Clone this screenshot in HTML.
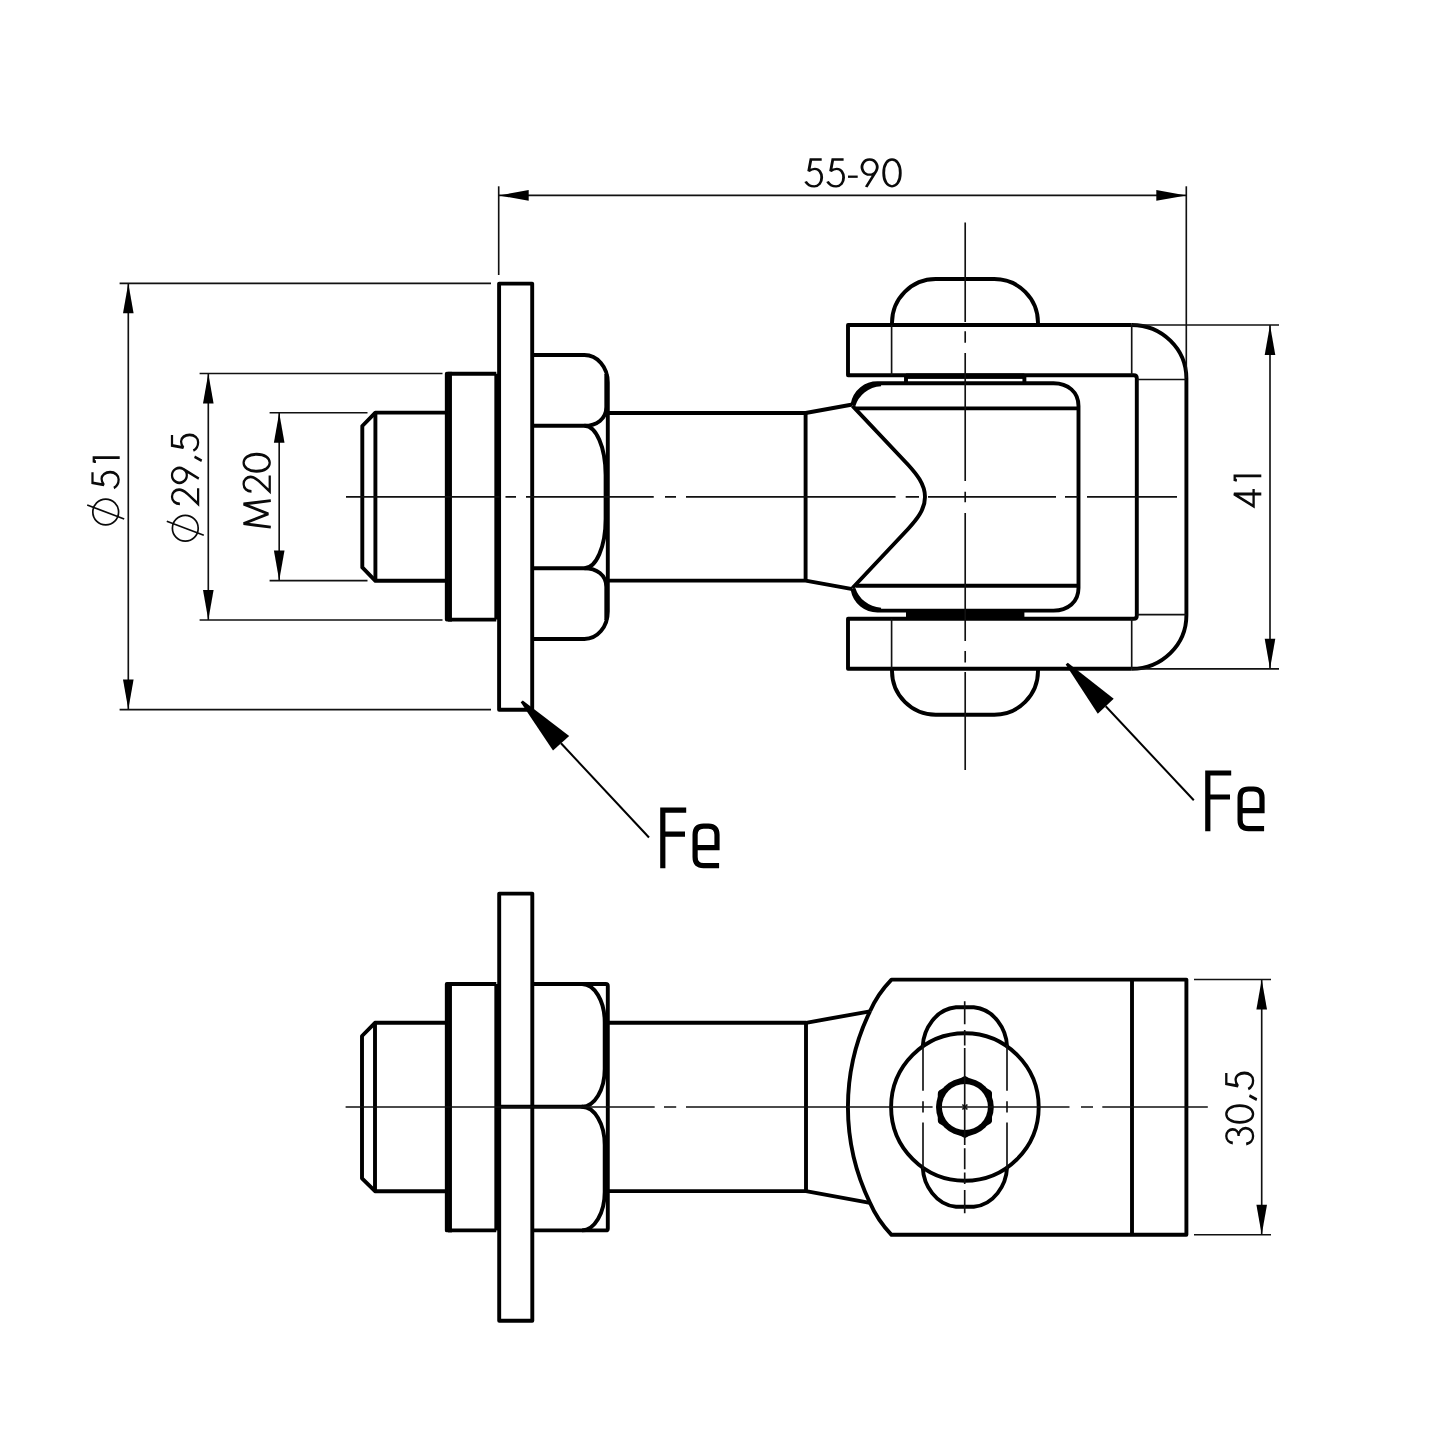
<!DOCTYPE html>
<html><head><meta charset="utf-8"><title>Drawing</title>
<style>
html,body{margin:0;padding:0;background:#fff;}
body{width:1440px;height:1440px;overflow:hidden;font-family:"Liberation Sans",sans-serif;}
svg{display:block}
.m{fill:none;stroke:#000;stroke-width:3.9;stroke-linejoin:round;stroke-linecap:butt}
.t{fill:none;stroke:#111;stroke-width:1.65}
.t2{fill:none;stroke:#000;stroke-width:2}
.f{fill:#000;stroke:none}
.g{fill:none;stroke:#0a0a0a;stroke-width:2.3;stroke-linejoin:miter;stroke-miterlimit:3;stroke-linecap:butt}
.g2{fill:none;stroke:#0a0a0a;stroke-width:1.7}
.fe{fill:none;stroke:#000;stroke-width:5.2;stroke-linejoin:miter;stroke-linecap:butt}
</style></head>
<body>
<svg width="1440" height="1440" viewBox="0 0 1440 1440">
<rect x="0" y="0" width="1440" height="1440" fill="#fff"/>
<path class="m" d="M499.1,283.6H532.2V709.8H499.1Z" />
<path class="m" d="M496.3,373.8H446.8V619.6H496.3" />
<path class="m" d="M450,371.85V621.55" />
<path class="m" d="M496.3,373.8V619.6" />
<path class="m" d="M447,412.6H375.4L362.3,426V567.4L375.4,580.8H447" />
<path class="m" d="M375.4,412.6V580.8" />
<path class="m" d="M532.2,355H584.4C597.3,355 607.8,367 607.8,382.5V611.5C607.8,627 597.3,639 584.4,639H532.2" />
<path class="m" d="M532.2,425.8H584.4C596.5,425.8 606.3,419 606.3,407V374" />
<path class="m" d="M532.2,568.2H584.4C596.5,568.2 606.3,575 606.3,587V620" />
<path class="m" d="M584.4,425.8C596,425.8 605.6,447 605.6,475V519C605.6,547 596,568.2 584.4,568.2" />
<path class="m" d="M607.8,413H805.6L852.5,404.5" />
<path class="m" d="M607.8,580.6H805.6L852.5,589.2" />
<path class="m" d="M805.6,413V580.6" />
<path class="m" d="M852.5,404.5C855,391 866,383.3 877.5,383.3H1053.5C1068,383.3 1078.5,392 1078.5,406V588C1078.5,602 1068,610.6 1053.5,610.6H877.5C866,610.6 855,603 852.5,589.2" />
<path class="m" d="M853.5,405.3C857,394.3 867,385 881,384.2" />
<path class="m" d="M853.5,588.5C857,599.5 867,608.8 881,609.6" />
<path class="m" d="M856,408.4H1078.5 M856,585.7H1078.5" />
<path class="m" d="M852.5,405.8L908.3,465C916,473.5 925,484 925,496.9C925,510 916,520.3 908.3,528.8L852.5,588" />
<path class="m" d="M906,375.3V383.3 M1024.4,375.3V383.3" />
<rect class="f" x="906" y="373.5" width="118.4" height="5.4"/>
<rect class="f" x="906" y="610" width="118.4" height="9"/>
<path class="m" d="M1131.7,325H848V375.3H1133.8Q1136.8,375.3 1136.8,378.3V615.8Q1136.8,618.8 1133.8,618.8H848V668.8H1131.7" />
<path class="m" d="M1131.7,325A54.7,53.6 0 0 1 1186.4,378.6V615.2A54.7,53.6 0 0 1 1131.7,668.8" />
<path class="t" d="M1131.7,325V375.3 M1131.7,618.8V668.8 M1137,379.5H1186.4 M1137,614.6H1186.4 M891.6,325V375.3 M891.6,618.8V668.8" />
<path class="m" d="M892,325V322.7A43.7,43.7 0 0 1 935.7,279H994.3A43.7,43.7 0 0 1 1038,322.7V325" />
<path class="m" d="M892,668.8V671A43.7,43.7 0 0 0 935.7,714.7H994.3A43.7,43.7 0 0 0 1038,671V668.8" />
<path class="t" d="M346,496.9H499.5 M505.5,496.9H516 M526,496.9H653.75 M665,496.9H676 M686,496.9H895.6 M905.7,496.9H919 M928,496.9H1056 M1065,496.9H1078 M1087,496.9H1177" />
<path class="t" d="M965.2,222.5V321.9 M965.2,331.3V342.7 M965.2,353V481 M965.2,491.7V502.3 M965.2,513V641 M965.2,651V662.5 M965.2,672V770" />
<path class="m" d="M499.2,893.6H532.3V1320.7H499.2Z" />
<path class="m" d="M496.3,984H446.8V1230.4H496.3" />
<path class="m" d="M450,982.05V1232.35" />
<path class="m" d="M496.3,984V1230.4" />
<path class="m" d="M447,1022.8H375L362,1036V1178.3L375,1191.2H447" />
<path class="m" d="M375,1022.8V1191.2" />
<path class="m" d="M532.3,984H605.8Q607.8,984 607.8,986V1228.4Q607.8,1230.4 605.8,1230.4H532.3" />
<path class="m" d="M582,984C594.5,984 604.7,1001 604.7,1022V1069C604.7,1090 594.5,1106.8 582,1106.8C594.5,1106.8 604.7,1124 604.7,1145V1192C604.7,1213 594.5,1230.4 582,1230.4" />
<path class="m" d="M497,1106.8H583" />
<path class="m" d="M607.8,1022.8H806L870,1011.3" />
<path class="m" d="M607.8,1191.1H806L870,1202.8" />
<path class="m" d="M806,1022.8V1191.1" />
<path class="m" d="M870,1011.3Q877.5,994 891.5,979.6H1186.4V1234.8H891.5Q877.5,1220.4 870,1202.8A218.7,218.7 0 0 1 870,1011.3" />
<path class="m" d="M1132,979.6V1234.8" />
<circle class="m" cx="964.9" cy="1107" r="73.8"/>
<clipPath id="rc"><circle cx="964.9" cy="1107" r="30.9"/></clipPath>
<circle class="f" cx="964.9" cy="1107" r="28.9"/>
<polygon class="f" points="964.90,1075.70 992.01,1091.35 992.01,1122.65 964.90,1138.30 937.79,1122.65 937.79,1091.35" clip-path="url(#rc)"/>
<circle cx="964.9" cy="1107" r="23" fill="#fff"/>
<path class="t" d="M962.4,1104.5L967.4,1109.5M962.4,1109.5L967.4,1104.5"/>
<path class="m" d="M922.8,1046C923.5,1029 936,1009 956,1007.3H973.8C993.8,1009 1006.3,1029 1007,1046" />
<path class="m" d="M922.8,1168C923.5,1185 936,1205 956,1206.7H973.8C993.8,1205 1006.3,1185 1007,1168" />
<path class="t" d="M923,1045V1090.8 M923,1101.3V1112.5 M923,1122.5V1169" />
<path class="t" d="M1007,1045V1090.8 M1007,1101.3V1112.5 M1007,1122.5V1169" />
<path class="t" d="M964.7,1001.3V1024.2 M964.7,1030V1045.5 M964.7,1048V1145 M964.7,1148.3V1169.2 M964.7,1172.5V1184 M964.7,1190V1213.3" />
<path class="t" d="M345.6,1107H654.7 M664,1107H676.2 M686,1107H932.6 M940,1107H1069.5 M1081,1107H1093 M1102.3,1107H1207.8" />
<path class="t" d="M498.7,186.3V275" />
<path class="t" d="M1186.3,186.3V378" />
<path class="t" d="M498.7,195.4H1186.3" />
<path class="f" d="M498.70,195.40L528.70,190.10L528.70,200.70Z"/>
<path class="f" d="M1186.30,195.40L1156.30,200.70L1156.30,190.10Z"/>
<path class="t" d="M1131.7,325H1279" />
<path class="t" d="M1131.7,668.8H1279" />
<path class="t" d="M1270,325V668.8" />
<path class="f" d="M1270.00,325.00L1275.30,355.00L1264.70,355.00Z"/>
<path class="f" d="M1270.00,668.80L1264.70,638.80L1275.30,638.80Z"/>
<path class="t" d="M1194,979.5H1271" />
<path class="t" d="M1194,1234.7H1271" />
<path class="t" d="M1261.7,979.5V1234.7" />
<path class="f" d="M1261.70,979.50L1267.00,1009.50L1256.40,1009.50Z"/>
<path class="f" d="M1261.70,1234.70L1256.40,1204.70L1267.00,1204.70Z"/>
<path class="t" d="M119.6,283.3H491" />
<path class="t" d="M119.6,709.6H491" />
<path class="t" d="M128.3,283.3V709.6" />
<path class="f" d="M128.30,283.30L133.60,313.30L123.00,313.30Z"/>
<path class="f" d="M128.30,709.60L123.00,679.60L133.60,679.60Z"/>
<path class="t" d="M199.6,373.5H442.5" />
<path class="t" d="M199.6,620H442.5" />
<path class="t" d="M208.3,373.5V620" />
<path class="f" d="M208.30,373.50L213.60,403.50L203.00,403.50Z"/>
<path class="f" d="M208.30,620.00L203.00,590.00L213.60,590.00Z"/>
<path class="t" d="M269.6,412.7H367.5" />
<path class="t" d="M269.6,580.6H367.5" />
<path class="t" d="M279.2,412.7V580.6" />
<path class="f" d="M279.20,412.70L284.50,442.70L273.90,442.70Z"/>
<path class="f" d="M279.20,580.60L273.90,550.60L284.50,550.60Z"/>
<path class="f" d="M520.7,702.2L522.8,700.6L569.2,736L553,750.6Z"/>
<path class="t2" d="M561,743.3L649,837.5" />
<path class="f" d="M1065.7,664.4L1067.8,662.8L1113.7,698.7L1097.8,713.7Z"/>
<path class="t2" d="M1105.7,706.2L1193.8,800.3" />
<path class="g" transform="translate(804.50,187.40) rotate(0) scale(1.0000,1.0) translate(0,-29) scale(1.22,1)" d="M 14.098,1.1 H 5.246 L 3.443,12.8 C 4.918,11.3 6.803,10.4 8.525,10.4 C 11.885,10.4 14.098,14.2 14.098,19.2 C 14.098,24.4 11.475,27.9 8.033,27.9 C 4.918,27.9 2.295,26 0.902,23"/>
<path class="g" transform="translate(826.40,187.40) rotate(0) scale(1.0000,1.0) translate(0,-29) scale(1.22,1)" d="M 14.098,1.1 H 5.246 L 3.443,12.8 C 4.918,11.3 6.803,10.4 8.525,10.4 C 11.885,10.4 14.098,14.2 14.098,19.2 C 14.098,24.4 11.475,27.9 8.033,27.9 C 4.918,27.9 2.295,26 0.902,23"/>
<path class="g" transform="translate(847.50,187.40) rotate(0) scale(1.0000,1.0) translate(0,-29) scale(1.22,1)" d="M 0.410,18.3 H 8.361"/>
<path class="g" transform="translate(861.20,187.40) rotate(0) scale(1.0000,1.0) translate(0,-29) scale(1.22,1)" d="M 6.885,16.3 A 6.230,7.6 0 1 1 6.893,16.3 M 12.049,13 L 4.098,28.6"/>
<path class="g" transform="translate(882.60,187.40) rotate(0) scale(1.0000,1.0) translate(0,-29) scale(1.22,1)" d="M 7.705,1.1 C 11.475,1.1 14.508,6 14.508,14.5 C 14.508,23 11.475,27.9 7.705,27.9 C 3.934,27.9 0.902,23 0.902,14.5 C 0.902,6 3.934,1.1 7.705,1.1 Z"/>
<path class="g" transform="translate(1261.30,507.60) rotate(-90) scale(1.0000,1.0) translate(0,-29) scale(1.22,1)" d="M 11.148,29 V 1.6 L 1.066,21.3 H 15.246"/>
<path class="g" transform="translate(1261.30,480.80) rotate(-90) scale(1.0000,1.0) translate(0,-29) scale(1.22,1)" d="M -0.164,2.4 H 4.098 V 29 M 0.574,2.4 V 4.6"/>
<path class="g" transform="translate(1254.20,1145.20) rotate(-90) scale(1.0000,1.0) translate(0,-29) scale(1.22,1)" d="M 1.803,7.6 C 2.131,3.8 4.508,1.1 7.541,1.1 C 10.656,1.1 12.951,3.8 12.951,7.4 C 12.951,11 10.656,13.4 7.541,13.4 C 11.148,13.4 13.934,16.2 13.934,20.4 C 13.934,24.8 11.148,27.9 7.623,27.9 C 4.262,27.9 1.639,25.2 0.984,21"/>
<path class="g" transform="translate(1254.20,1123.40) rotate(-90) scale(1.0000,1.0) translate(0,-29) scale(1.22,1)" d="M 7.705,1.1 C 11.475,1.1 14.508,6 14.508,14.5 C 14.508,23 11.475,27.9 7.705,27.9 C 3.934,27.9 0.902,23 0.902,14.5 C 0.902,6 3.934,1.1 7.705,1.1 Z"/>
<path class="g" transform="translate(1254.20,1100.20) rotate(-90) scale(1.0000,1.0) translate(0,-29) scale(1.22,1)" d="M 3.770,24.2 L 0.492,31.6"/>
<path class="g" transform="translate(1254.20,1090.20) rotate(-90) scale(1.0000,1.0) translate(0,-29) scale(1.22,1)" d="M 14.098,1.1 H 5.246 L 3.443,12.8 C 4.918,11.3 6.803,10.4 8.525,10.4 C 11.885,10.4 14.098,14.2 14.098,19.2 C 14.098,24.4 11.475,27.9 8.033,27.9 C 4.918,27.9 2.295,26 0.902,23"/>
<path class="g" transform="translate(270.80,528.40) rotate(-90) scale(1.0237,0.975) translate(0,-29) scale(1.22,1)" d="M 0.984,29 L 3.770,1 L 11.639,26.5 L 19.508,1 L 22.295,29"/>
<path class="g" transform="translate(270.80,493.40) rotate(-90) scale(0.9945,0.975) translate(0,-29) scale(1.22,1)" d="M 1.639,9.2 C 1.639,4.6 4.098,1.1 7.705,1.1 C 11.148,1.1 13.607,4.3 13.607,8.4 C 13.607,11.6 12.295,13.8 10.328,16.6 L 1.639,27.9 H 14.754"/>
<path class="g" transform="translate(270.80,472.40) rotate(-90) scale(1.0237,0.975) translate(0,-29) scale(1.22,1)" d="M 7.705,1.1 C 11.475,1.1 14.508,6 14.508,14.5 C 14.508,23 11.475,27.9 7.705,27.9 C 3.934,27.9 0.902,23 0.902,14.5 C 0.902,6 3.934,1.1 7.705,1.1 Z"/>
<g transform="translate(185.30,528.30) rotate(-90)"><circle class="g2" cx="0" cy="0" r="12.9"/><path class="g2" d="M-7,18.5L7,-18.5"/></g>
<path class="g" transform="translate(199.20,505.80) rotate(-90) scale(0.9750,0.975) translate(0,-29) scale(1.22,1)" d="M 1.639,9.2 C 1.639,4.6 4.098,1.1 7.705,1.1 C 11.148,1.1 13.607,4.3 13.607,8.4 C 13.607,11.6 12.295,13.8 10.328,16.6 L 1.639,27.9 H 14.754"/>
<path class="g" transform="translate(199.20,483.50) rotate(-90) scale(0.9750,0.975) translate(0,-29) scale(1.22,1)" d="M 6.885,16.3 A 6.230,7.6 0 1 1 6.893,16.3 M 12.049,13 L 4.098,28.6"/>
<path class="g" transform="translate(199.20,461.30) rotate(-90) scale(0.9750,0.975) translate(0,-29) scale(1.22,1)" d="M 3.770,24.2 L 0.492,31.6"/>
<path class="g" transform="translate(199.20,451.70) rotate(-90) scale(0.9750,0.975) translate(0,-29) scale(1.22,1)" d="M 14.098,1.1 H 5.246 L 3.443,12.8 C 4.918,11.3 6.803,10.4 8.525,10.4 C 11.885,10.4 14.098,14.2 14.098,19.2 C 14.098,24.4 11.475,27.9 8.033,27.9 C 4.918,27.9 2.295,26 0.902,23"/>
<g transform="translate(105.70,512.00) rotate(-90)"><circle class="g2" cx="0" cy="0" r="12.9"/><path class="g2" d="M-7,18.5L7,-18.5"/></g>
<path class="g" transform="translate(119.70,489.00) rotate(-90) scale(0.9750,0.975) translate(0,-29) scale(1.22,1)" d="M 14.098,1.1 H 5.246 L 3.443,12.8 C 4.918,11.3 6.803,10.4 8.525,10.4 C 11.885,10.4 14.098,14.2 14.098,19.2 C 14.098,24.4 11.475,27.9 8.033,27.9 C 4.918,27.9 2.295,26 0.902,23"/>
<path class="g" transform="translate(119.70,462.40) rotate(-90) scale(0.9750,0.975) translate(0,-29) scale(1.22,1)" d="M -0.164,2.4 H 4.098 V 29 M 0.574,2.4 V 4.6"/>
<path class="fe" transform="translate(660.2,807.5)" d="M2.6,60.8V2.6H26 M2.6,26.6H24.8 M34.9,40.2H56.8V27.2Q56.8,18.6 48.4,18.6H43.3Q34.9,18.6 34.9,27.2V49.6Q34.9,58.2 43.3,58.2H58.9"/>
<path class="fe" transform="translate(1205.2,770.4)" d="M2.6,60.8V2.6H26 M2.6,26.6H24.8 M34.9,40.2H56.8V27.2Q56.8,18.6 48.4,18.6H43.3Q34.9,18.6 34.9,27.2V49.6Q34.9,58.2 43.3,58.2H58.9"/>
</svg>
</body></html>
